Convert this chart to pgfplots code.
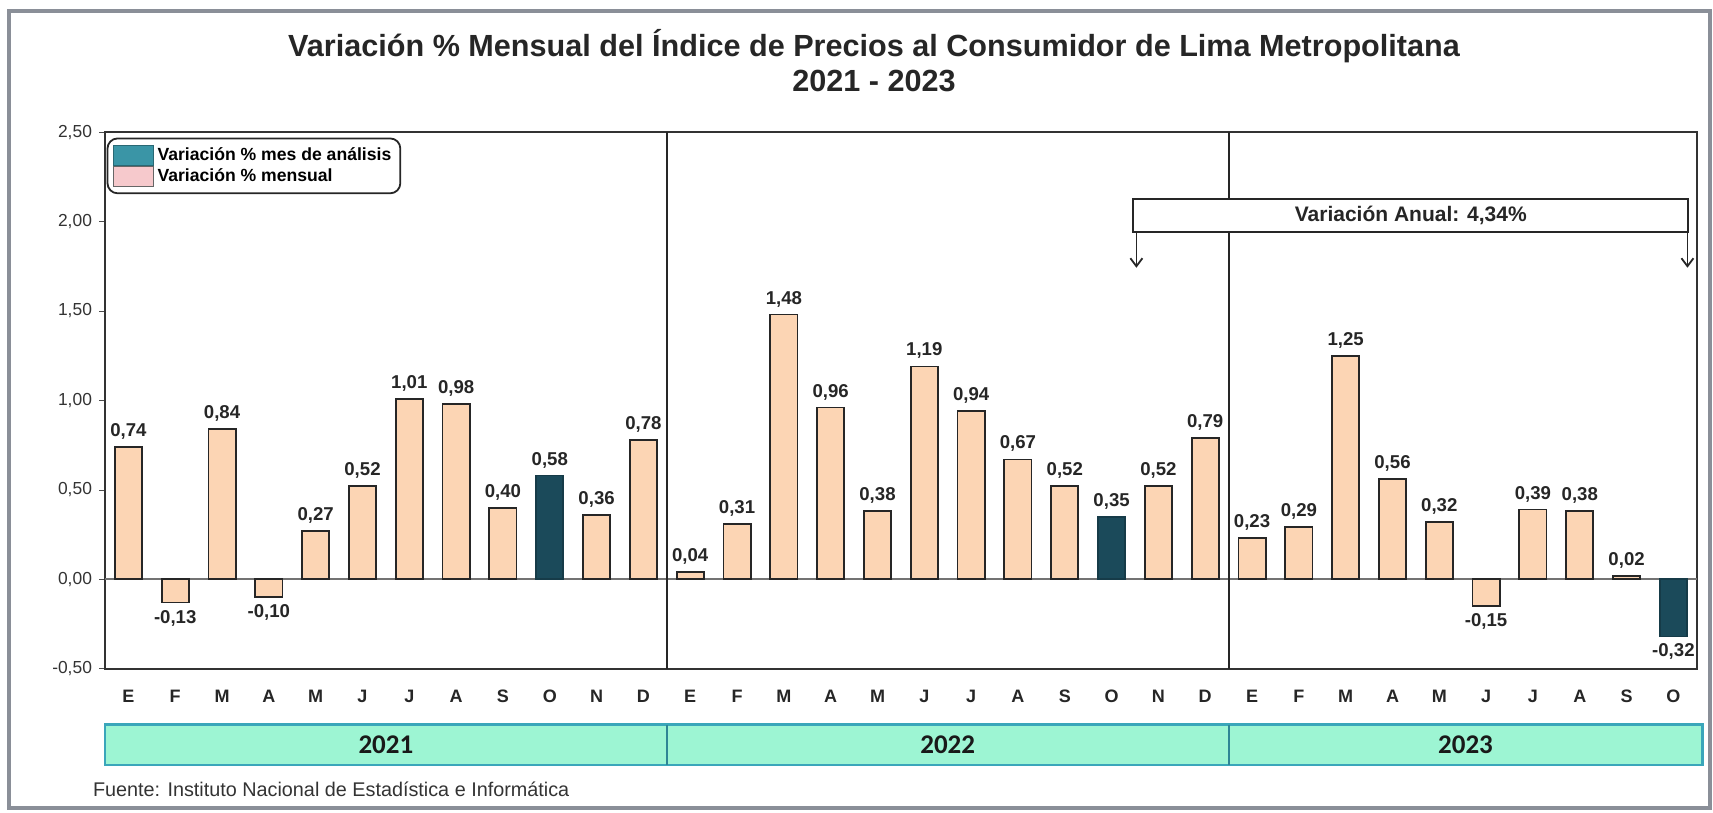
\documentclass[border=0pt]{standalone}
\usepackage{fontspec}
\setmainfont{Liberation Sans}
\newfontfamily\carlito{Carlito}
\usepackage{pgfplots}
\pgfplotsset{compat=1.18}
\usetikzlibrary{arrows.meta}
\definecolor{peach}{HTML}{FCD5B4}
\definecolor{darkteal}{HTML}{1B4A5A}
\definecolor{legteal}{HTML}{3A95A6}
\definecolor{legpink}{HTML}{F6C9CC}
\definecolor{bandfill}{HTML}{9DF5D3}
\definecolor{bandline}{HTML}{3AA6BA}
\definecolor{framegray}{HTML}{8A8F98}
\begin{document}
\begin{tikzpicture}
% page bounds
\path (0pt,0pt) rectangle (856.5pt,-406.5pt);
\draw[framegray, line width=1.6pt] (4.5pt,-5.5pt) rectangle (855pt,-404pt);
\node[align=center, font=\fontsize{15.3}{17.5}\selectfont\bfseries, text=black!85] at (437pt,-30.5pt)
  {Variación \% Mensual del Índice de Precios al Consumidor de Lima Metropolitana\\2021 - 2023};
\node[anchor=west, font=\fontsize{9.9}{11}\selectfont, text=black!80] at (43pt,-394.5pt)
  {Fuente: Instituto Nacional de Estadística e Informática};
\begin{axis}[
  at={(52.5pt,-334.3pt)}, anchor=south west,
  width=795.9pt, height=268.2pt, scale only axis,
  ybar, clip=false,
  xmin=-0.5, xmax=33.5, ymin=-0.5, ymax=2.5,
  xtick={0,...,33},
  xticklabels={E,F,M,A,M,J,J,A,S,O,N,D,E,F,M,A,M,J,J,A,S,O,N,D,E,F,M,A,M,J,J,A,S,O},
  xtick style={draw=none},
  xticklabel style={font=\fontsize{9}{10}\selectfont\bfseries, text=black!85, yshift=-4pt},
  ytick={-0.5,0,0.5,1,1.5,2,2.5},
  ytick pos=left, tick align=outside, major tick length=3pt,
  ytick style={black!70},
  yticklabel style={font=\fontsize{8.7}{10}\selectfont, text=black!80},
  /pgf/number format/.cd, use comma, fixed, fixed zerofill, precision=2, assume math mode=true,
  /pgfplots/.cd,
  axis line style={black!80, line width=1pt},
  bar width=0.58,
  nodes near coords,
  every node near coord/.append style={font=\fontsize{9.3}{10}\selectfont\bfseries, text=black!85},
  legend style={at={(0.001,0.99)}, anchor=north west, rounded corners=5pt, draw=black!85, line width=0.9pt,
    font=\fontsize{8.8}{10}\selectfont\bfseries, inner sep=2.5pt, row sep=-1.5pt},
  legend cell align=left,
  legend image code/.code={\draw[#1, sharp corners, line width=0.5pt] (0pt,-5pt) rectangle (20pt,5pt);},
]
\draw[black!55, line width=0.8pt] (axis cs:-0.5,0) -- (axis cs:33.5,0);
\addplot[fill=peach, draw=black!85, line width=0.9pt, bar shift=0pt, forget plot] coordinates {
(0,0.74) (1,-0.13) (2,0.84) (3,-0.10) (4,0.27) (5,0.52) (6,1.01) (7,0.98) (8,0.40) (10,0.36) (11,0.78)
(12,0.04) (13,0.31) (14,1.48) (15,0.96) (16,0.38) (17,1.19) (18,0.94) (19,0.67) (20,0.52) (22,0.52) (23,0.79)
(24,0.23) (25,0.29) (26,1.25) (27,0.56) (28,0.32) (29,-0.15) (30,0.39) (31,0.38) (32,0.02)
};
\addplot[fill=darkteal, draw=darkteal!80!black, line width=0.9pt, bar shift=0pt, forget plot] coordinates {
(9,0.58) (21,0.35) (33,-0.32)
};
\addlegendimage{fill=legteal, draw=legteal!70!black}
\addlegendentry{Variación \% mes de análisis}
\addlegendimage{fill=legpink, draw=black!60}
\addlegendentry{Variación \% mensual}
% separators
\draw[black!85, line width=1pt] (axis cs:11.5,-0.5) -- (axis cs:11.5,2.5);
\draw[black!85, line width=1pt] (axis cs:23.5,-0.5) -- (axis cs:23.5,2.5);
% annual variation box
\draw[-{Straight Barb[length=4pt,width=6pt]}, black!85, line width=0.9pt] (axis cs:21.53,1.944) -- (axis cs:21.53,1.742);
\draw[-{Straight Barb[length=4pt,width=6pt]}, black!85, line width=0.9pt] (axis cs:33.30,1.944) -- (axis cs:33.30,1.742);
\draw[black!85, fill=white, line width=1pt] (axis cs:21.46,1.944) rectangle (axis cs:33.32,2.127);
\node[font=\fontsize{10.5}{12}\selectfont\bfseries, text=black!85] at (axis cs:27.39,2.035) {Variación Anual: 4,34\%};
% year band
\draw[bandline, fill=bandfill, line width=1.1pt] (axis cs:-0.5,-0.813) rectangle (axis cs:33.62,-1.039);
\draw[bandline!80!black, line width=1pt] (axis cs:11.5,-0.813) -- (axis cs:11.5,-1.039);
\draw[bandline!80!black, line width=1pt] (axis cs:23.5,-0.813) -- (axis cs:23.5,-1.039);
\node[font=\carlito\fontsize{13.5}{15}\selectfont\bfseries, text=black!90] at (axis cs:5.5,-0.926) {2021};
\node[font=\carlito\fontsize{13.5}{15}\selectfont\bfseries, text=black!90] at (axis cs:17.5,-0.926) {2022};
\node[font=\carlito\fontsize{13.5}{15}\selectfont\bfseries, text=black!90] at (axis cs:28.56,-0.926) {2023};
\end{axis}
\end{tikzpicture}
\end{document}
